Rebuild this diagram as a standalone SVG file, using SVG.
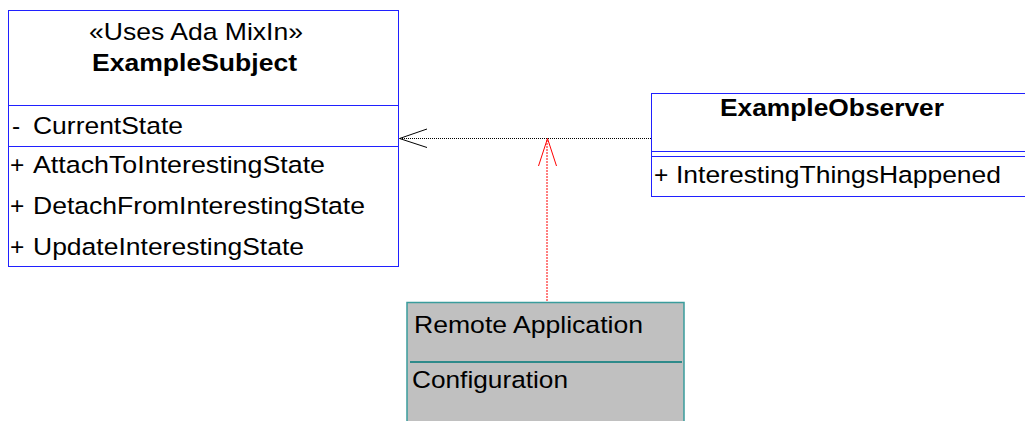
<svg xmlns="http://www.w3.org/2000/svg" width="1025" height="421" viewBox="0 0 1025 421">
  <style>
    text { font-family: "Liberation Sans", Arial, sans-serif; fill: #000; }
    .t { font-size: 24.5px; }
    .b { font-size: 24.5px; font-weight: bold; }
    .cls { fill: #fff; stroke: #2020ff; stroke-width: 1; }
    .sep { stroke: #2020ff; stroke-width: 1; fill: none; }
    .obj { fill: #c0c0c0; stroke: #3a9c9c; stroke-width: 1.5; }
    .objsep { stroke: #2e8a8a; stroke-width: 2; fill: none; }
    .dep { fill: none; stroke: #000; stroke-width: 1; stroke-dasharray: 1 1; }
    .deph { fill: none; stroke: #000; stroke-width: 1; }
    .flow { fill: none; stroke: #ff0000; stroke-width: 1; }
  </style>

  <!-- subject class -->
  <g id="ExampleSubject">
    <rect class="cls" x="8.5" y="10.5" width="390" height="256"/>
    <line class="sep" x1="8.5" y1="105.5" x2="398.5" y2="105.5"/>
    <line class="sep" x1="8.5" y1="146.5" x2="398.5" y2="146.5"/>
    <text class="t" x="89" y="40" textLength="214" lengthAdjust="spacingAndGlyphs">«Uses Ada MixIn»</text>
    <text class="b" x="92" y="71" textLength="205" lengthAdjust="spacingAndGlyphs">ExampleSubject</text>
    <text class="t" x="12" y="134">-</text>
    <text class="t" x="33" y="134" textLength="150" lengthAdjust="spacingAndGlyphs">CurrentState</text>
    <text class="t" x="10" y="173">+</text>
    <text class="t" x="33" y="173" textLength="292" lengthAdjust="spacingAndGlyphs">AttachToInterestingState</text>
    <text class="t" x="10" y="214">+</text>
    <text class="t" x="33" y="214" textLength="332" lengthAdjust="spacingAndGlyphs">DetachFromInterestingState</text>
    <text class="t" x="10" y="255">+</text>
    <text class="t" x="33" y="255" textLength="271" lengthAdjust="spacingAndGlyphs">UpdateInterestingState</text>
  </g>

  <!-- observer class -->
  <g id="ExampleObserver">
    <rect class="cls" x="651.5" y="93.5" width="380" height="103"/>
    <line class="sep" x1="651.5" y1="151.5" x2="1025" y2="151.5"/>
    <line class="sep" x1="651.5" y1="156.5" x2="1025" y2="156.5"/>
    <text class="b" x="720" y="116" textLength="224" lengthAdjust="spacingAndGlyphs">ExampleObserver</text>
    <text class="t" x="654" y="183">+</text>
    <text class="t" x="676" y="183" textLength="325" lengthAdjust="spacingAndGlyphs">InterestingThingsHappened</text>
  </g>

  <!-- remote application object -->
  <g id="RemoteApplication">
    <rect class="obj" x="407" y="302.5" width="277" height="130"/>
    <line class="objsep" x1="410" y1="362" x2="682" y2="362"/>
    <text class="t" x="414" y="333" textLength="229" lengthAdjust="spacingAndGlyphs">Remote Application</text>
    <text class="t" x="412" y="388" textLength="156" lengthAdjust="spacingAndGlyphs">Configuration</text>
  </g>

  <!-- connectors -->
  <g id="connectors">
    <line class="dep" x1="400" y1="138.5" x2="651" y2="138.5"/>
    <polyline class="deph" points="427,129 399.5,138.5 427,147.5"/>
    <line class="flow" stroke-dasharray="2 1" x1="547" y1="140" x2="547" y2="302"/>
    <polyline class="flow" points="538.5,166 547.5,138.5 556.5,166"/>
  </g>
</svg>
